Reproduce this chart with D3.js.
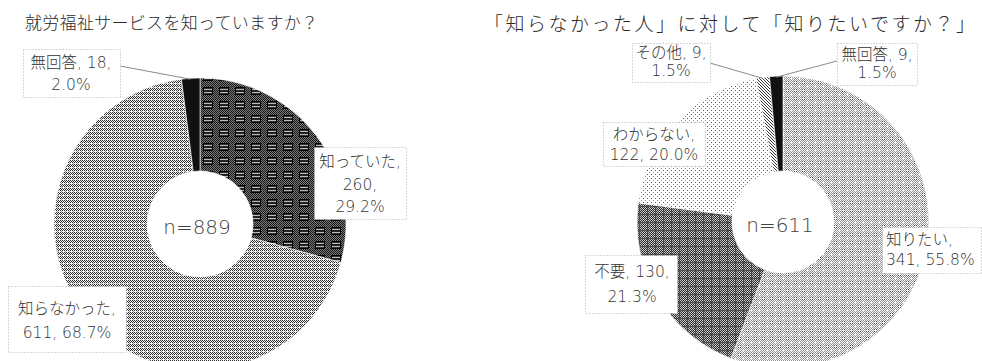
<!DOCTYPE html>
<html>
<head>
<meta charset="utf-8">
<script src="https://cdn.jsdelivr.net/npm/d3@7"></script>
<style>
  html, body { margin: 0; padding: 0; background: #fff; }
  svg { display: block; }
</style>
</head>
<body>
<svg id="chart" width="982" height="361"></svg>
<script>
// 就労福祉サービスの認知（回答数）
const knowCategories = ["知っていた", "知らなかった", "無回答"];
const knowCounts = [260, 611, 18];

// 「知らなかった人」の意向（回答数）
const wantCategories = ["知りたい", "不要", "わからない", "その他", "無回答"];
const wantCounts = [341, 130, 122, 9, 9];

const titles = [
  "就労福祉サービスを知っていますか？",
  "「知らなかった人」に対して「知りたいですか？」"
];

const svg = d3.select("#chart");
const defs = svg.append("defs");

// Halftone-style fills built from pixel tiles
function tile(id, w, h, bg, cells) {
  const p = defs.append("pattern")
    .attr("id", id)
    .attr("patternUnits", "userSpaceOnUse")
    .attr("width", w).attr("height", h);
  p.append("rect").attr("width", w).attr("height", h).attr("fill", bg);
  cells.forEach(([x, y, cw, ch, c]) => {
    p.append("rect").attr("x", x).attr("y", y)
      .attr("width", cw).attr("height", ch).attr("fill", c)
      .attr("shape-rendering", "crispEdges");
  });
}

// medium-light dither with horizontal banding
(function () {
  const cells = [];
  for (let y = 0; y < 4; y++) {
    for (let x = 0; x < 4; x++) {
      if (y === 3) { if (x === 1) cells.push([x, y, 1, 1, "#888"]); continue; }
      if ((x + y) % 2 === 0) cells.push([x, y, 1, 1, "#2e2e2e"]);
    }
  }
  tile("pKnewNot", 4, 4, "#f4f4f4", cells);
})();

// dark dither with a grid of small boxed cells
(function () {
  const cells = [];
  for (let y = 0; y < 14; y++)
    for (let x = 0; x < 16; x++) if ((x + y) % 2 === 0) cells.push([x, y, 1, 1, "#141414"]);
  // boxed cell
  cells.push([3, 3, 10, 1, "#000"], [3, 10, 10, 1, "#000"], [3, 3, 1, 8, "#000"], [12, 3, 1, 8, "#000"]);
  cells.push([4, 5, 8, 1, "#b8b8b8"], [4, 8, 8, 1, "#b8b8b8"], [4, 6, 8, 2, "#222"], [4, 4, 8, 1, "#333"], [4, 9, 8, 1, "#333"]);
  tile("pKnew", 16, 14, "#7c7c7c", cells);
})();

// light gray dither
(function () {
  const cells = [];
  for (let y = 0; y < 8; y++)
    for (let x = 0; x < 8; x++) {
      if ((x + y) % 2 === 0 && !(x === 4 && y === 4) && !(x === 0 && y === 0)) cells.push([x, y, 1, 1, "#909090"]);
    }
  cells.push([3, 3, 1, 1, "#444"], [5, 5, 1, 1, "#444"], [3, 5, 1, 1, "#444"], [5, 3, 1, 1, "#444"]);
  tile("pWant", 8, 8, "#ffffff", cells);
})();

// darker dither
(function () {
  const cells = [];
  for (let y = 0; y < 8; y++)
    for (let x = 0; x < 8; x++) {
      if ((x + y) % 2 === 0) cells.push([x, y, 1, 1, "#303030"]);
      else if (x === 0 || y === 0) cells.push([x, y, 1, 1, "#6a6a6a"]);
    }
  tile("pNoNeed", 8, 8, "#c6c6c6", cells);
})();

// sparse dots
tile("pUnknown", 4, 4, "#ffffff", [[0, 0, 1, 1, "#555"], [2, 2, 1, 1, "#888"]]);

// diagonal hatch
tile("pOther", 3, 3, "#ffffff", [[0, 0, 1, 1, "#333"], [1, 1, 1, 1, "#333"], [2, 2, 1, 1, "#333"]]);

const fmtPct = d3.format(".1%");

function labelLines(mode, cat, n, pct) {
  if (mode === "c|n|p") return [cat + ",", n + ",", pct];
  if (mode === "cn|p") return [cat + ", " + n + ",", pct];
  return [cat + ",", n + ", " + pct];
}

const charts = [
  {
    title: titles[0], titleX: 25, titleY: 29, titleSize: 17, titleLen: 293,
    cx: 200, cy: 224, R: 146, r: 53,
    cats: knowCategories, counts: knowCounts,
    fills: ["url(#pKnew)", "url(#pKnewNot)", "#111"],
    labels: [
      { box: [314, 147, 92, 72], mode: "c|n|p", tx: 360, ty: 162, lh: 22.5, anchor: "middle" },
      { box: [8, 286, 118, 66], mode: "c|np", tx: 67, ty: 309, lh: 24, anchor: "middle" },
      { box: [23, 49, 97, 48], mode: "cn|p", tx: 71, ty: 63, lh: 22, anchor: "middle", leader: [120, 66] }
    ]
  },
  {
    title: titles[1], titleX: 484, titleY: 31, titleSize: 19, titleLen: 491,
    cx: 783, cy: 222, R: 146, r: 51,
    cats: wantCategories, counts: wantCounts,
    fills: ["url(#pWant)", "url(#pNoNeed)", "url(#pUnknown)", "url(#pOther)", "#111"],
    labels: [
      { box: [882, 227, 99, 46], mode: "c|np", tx: 886, ty: 240, lh: 20, anchor: "start" },
      { box: [585, 255, 92, 58], mode: "cn|p", tx: 632, ty: 272, lh: 25, anchor: "middle" },
      { box: [603, 122, 102, 44], mode: "c|np", tx: 654, ty: 135, lh: 20, anchor: "middle" },
      { box: [632, 43, 78, 39], mode: "cn|p", tx: 671, ty: 53, lh: 18, anchor: "middle", leader: [710, 63] },
      { box: [837, 43, 80, 42], mode: "cn|p", tx: 877, ty: 55, lh: 18, anchor: "middle", leader: [837, 61] }
    ]
  }
];

const labelFont = "'DejaVu Sans', 'Noto Sans CJK JP', sans-serif";

charts.forEach(ch => {
  const total = d3.sum(ch.counts);
  const pie = d3.pie().sort(null).value(d => d)(ch.counts);
  const arc = d3.arc().innerRadius(ch.r).outerRadius(ch.R);
  const g = svg.append("g").attr("transform", `translate(${ch.cx},${ch.cy})`);

  g.selectAll("path.slice")
    .data(pie)
    .join("path")
    .attr("class", "slice")
    .attr("d", arc)
    .attr("fill", (d, i) => ch.fills[i])
    .attr("stroke", "#fff")
    .attr("stroke-width", 0.6);

  // sample size in the hole
  g.append("text")
    .attr("x", -3).attr("y", 3)
    .attr("text-anchor", "middle")
    .attr("dominant-baseline", "central")
    .attr("font-family", "'DejaVu Sans', sans-serif")
    .attr("font-weight", 200)
    .attr("font-size", 20)
    .attr("fill", "#444")
    .text("n=" + total);

  // title
  svg.append("text")
    .attr("x", ch.titleX).attr("y", ch.titleY)
    .attr("font-family", "'Noto Sans CJK JP', sans-serif")
    .attr("font-weight", 300)
    .attr("font-size", ch.titleSize)
    .attr("fill", "#2a2a2a")
    .attr("textLength", ch.titleLen)
    .attr("lengthAdjust", "spacing")
    .text(ch.title);

  // leader lines to the thin slices
  ch.labels.forEach((lb, i) => {
    if (!lb.leader) return;
    const a = (pie[i].startAngle + pie[i].endAngle) / 2;
    const ex = ch.cx + Math.sin(a) * (ch.R - 1);
    const ey = ch.cy - Math.cos(a) * (ch.R - 1);
    svg.append("line")
      .attr("x1", lb.leader[0]).attr("y1", lb.leader[1])
      .attr("x2", ex).attr("y2", ey)
      .attr("stroke", "#8a8a8a").attr("stroke-width", 1);
  });

  // data labels
  ch.labels.forEach((lb, i) => {
    const [bx, by, bw, bh] = lb.box;
    svg.append("rect")
      .attr("x", bx + 0.5).attr("y", by + 0.5)
      .attr("width", bw).attr("height", bh)
      .attr("fill", "#fff")
      .attr("stroke", "#b0b0b0")
      .attr("stroke-width", 1)
      .attr("stroke-dasharray", "1,2");
    const lines = labelLines(lb.mode, ch.cats[i], ch.counts[i], fmtPct(ch.counts[i] / total));
    const t = svg.append("text")
      .attr("font-family", labelFont)
      .attr("font-weight", 300)
      .attr("font-size", 15.5)
      .attr("fill", "#333")
      .attr("text-anchor", lb.anchor);
    lines.forEach((s, k) => {
      t.append("tspan")
        .attr("x", lb.tx)
        .attr("y", lb.ty + k * lb.lh)
        .attr("dominant-baseline", "central")
        .text(s);
    });
  });
});
</script>
</body>
</html>
